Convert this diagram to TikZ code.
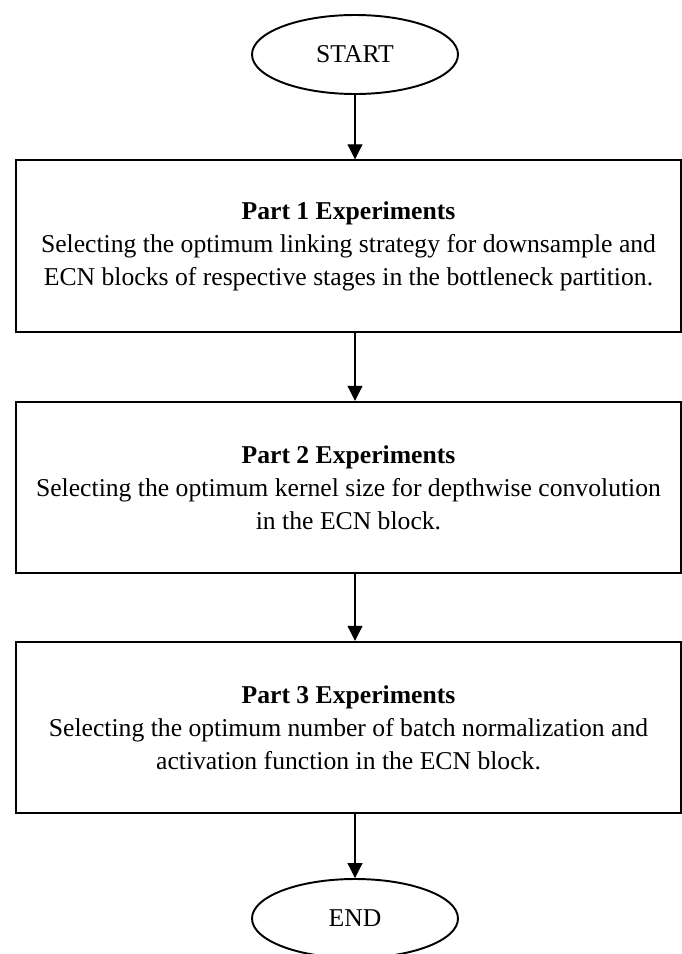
\documentclass[tikz,border=0pt]{standalone}
\usepackage{fontspec}
\setmainfont{Liberation Serif}
\usetikzlibrary{shapes.geometric,arrows.meta}

\begin{document}
\begin{tikzpicture}[font=\fontsize{14.6}{18.8}\selectfont,
  termnode/.style={draw,line width=1.1pt,ellipse,minimum width=4.12cm,minimum height=1.58cm,inner sep=0pt},
  stepbox/.style={draw,line width=1.1pt,rectangle,minimum width=13.3cm,minimum height=3.43cm,align=center,inner sep=0pt},
  flow/.style={line width=0.6pt,-{Triangle[width=8.5pt,length=8.5pt]}}]
  \useasboundingbox (0,0) rectangle (13.62,-19.08);
  % ---- terminals ----
  \node[termnode] (start) at (7.1,-1.09) {START};
  \node[termnode] (stop) at (7.1,-18.37) {END};
  % ---- experiment parts ----
  \node[stepbox] (p1) at (6.97,-4.92) {\textbf{Part 1 Experiments}\\
    Selecting the optimum linking strategy for downsample and\\
    ECN blocks of respective stages in the bottleneck partition.};
  \node[stepbox] (p2) at (6.97,-9.75) {\textbf{Part 2 Experiments}\\
    Selecting the optimum kernel size for depthwise convolution\\
    in the ECN block.};
  \node[stepbox] (p3) at (6.97,-14.55) {\textbf{Part 3 Experiments}\\
    Selecting the optimum number of batch normalization and\\
    activation function in the ECN block.};
  % ---- arrows ----
  \draw[flow] (start.south) -- (start.south |- p1.north);
  \draw[flow] (start.south |- p1.south) -- (start.south |- p2.north);
  \draw[flow] (start.south |- p2.south) -- (start.south |- p3.north);
  \draw[flow] (start.south |- p3.south) -- (stop.north);
\end{tikzpicture}
\end{document}
